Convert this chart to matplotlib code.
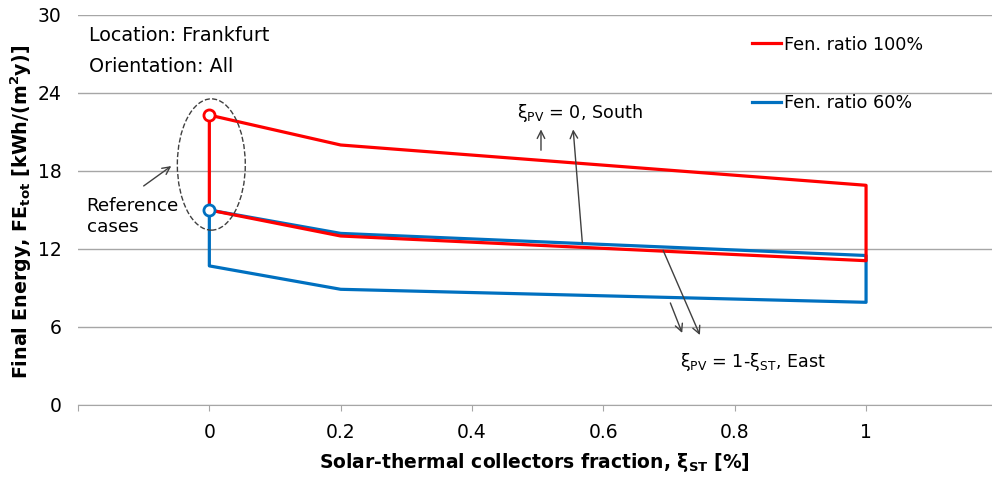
import numpy as np
import matplotlib
matplotlib.use("Agg")
import matplotlib.pyplot as plt
from matplotlib.patches import Ellipse

# closed outlines of each scenario envelope (x = solar-thermal fraction, y = final energy)
red_x = [0, 0, 0.2, 1, 1, 0.2, 0]
red_y = [15.0, 22.3, 20.0, 16.9, 11.1, 13.0, 15.0]
blue_x = [0, 0, 0.2, 1, 1, 0.2, 0]
blue_y = [15.0, 10.7, 8.9, 7.9, 11.5, 13.2, 15.0]
ref_x = [0, 0]
ref_y = [22.3, 15.0]
ref_colors = ['#FF0000', '#0070C0']

x_ticks = [-0.2, 0, 0.2, 0.4, 0.6, 0.8, 1, 1.2]
x_labels = ['', '0', '0.2', '0.4', '0.6', '0.8', '1', '']
y_ticks = [0, 6, 12, 18, 24, 30]

plt.rcParams['font.family'] = 'DejaVu Sans'
plt.rcParams['font.size'] = 13.5

fig = plt.figure(figsize=(9.92, 4.78), dpi=100)
ax = fig.add_axes([78/992, 1-405/478, 919.4/992, 390/478])

ax.plot(blue_x, blue_y, color='#0070C0', lw=2.3, label='Fen. ratio 60%', zorder=3)
ax.plot(red_x, red_y, color='#FF0000', lw=2.3, label='Fen. ratio 100%', zorder=4)
for xx, yy, c in zip(ref_x, ref_y, ref_colors):
    ax.plot(xx, yy, 'o', ms=8, mfc='white', mec=c, mew=2, zorder=5)

ax.set_xlim(-0.2, 1.2)
ax.set_ylim(0, 30)
ax.set_xticks(x_ticks)
ax.set_xticklabels(x_labels)
ax.set_yticks(y_ticks)

ax.grid(axis='y', color='#A6A6A6', lw=1)
ax.set_axisbelow(True)
for s in ['left', 'right', 'top']:
    ax.spines[s].set_visible(False)
ax.spines['bottom'].set_color('#A6A6A6')
ax.tick_params(axis='y', length=0, pad=12, labelsize=13.5)
ax.tick_params(axis='x', length=4, color='#A6A6A6', pad=9, labelsize=13.5)

ax.set_xlabel(r'Solar-thermal collectors fraction, ξ$_\mathbf{ST}$ [%]', fontweight='bold', fontsize=13.5)
ax.set_ylabel(r'Final Energy, FE$_\mathbf{tot}$ [kWh/(m$^\mathbf{2}$y)]', fontweight='bold', fontsize=13.7)
ax.xaxis.set_label_coords(0.497, -0.118)
ax.yaxis.set_label_coords(-0.048, 0.494)

handles, labels = ax.get_legend_handles_labels()
ax.legend(handles[::-1], labels[::-1], loc='upper left', bbox_to_anchor=(0.733, 0.947),
          frameon=False, borderpad=0, borderaxespad=0, labelspacing=2.3, handlelength=1.65,
          handletextpad=0.17, fontsize=12.7)

ax.text(-0.183, 28.46, 'Location: Frankfurt', va='center', ha='left', fontsize=13.8)
ax.text(-0.183, 26.0, 'Orientation: All', va='center', ha='left', fontsize=13.8)
ax.text(-0.187, 14.5, 'Reference\ncases', va='center', ha='left', linespacing=1.15, fontsize=13.2)
ax.text(0.469, 22.45, r'ξ$_\mathregular{PV}$ = 0, South', va='center', ha='left', fontsize=12.6)
ax.text(0.717, 3.3, r'ξ$_\mathregular{PV}$ = 1-ξ$_\mathregular{ST}$, East', va='center', ha='left', fontsize=12.6)

ax.add_patch(Ellipse((0.003, 18.5), 0.1035, 10.1, fill=False, ls='--', lw=1, ec='#404040', zorder=6))

arrows = [((-0.100, 16.85), (-0.058, 18.38)),
          ((0.505, 19.6), (0.505, 21.2)),
          ((0.568, 12.46), (0.554, 21.2)),
          ((0.702, 7.85), (0.720, 5.54)),
          ((0.691, 11.9), (0.747, 5.38))]
for tail, head in arrows:
    ax.annotate('', xy=head, xytext=tail,
                arrowprops=dict(arrowstyle='->', color='#404040', lw=1, shrinkA=0, shrinkB=0), zorder=7)

fig.savefig('out.png', dpi=100)
